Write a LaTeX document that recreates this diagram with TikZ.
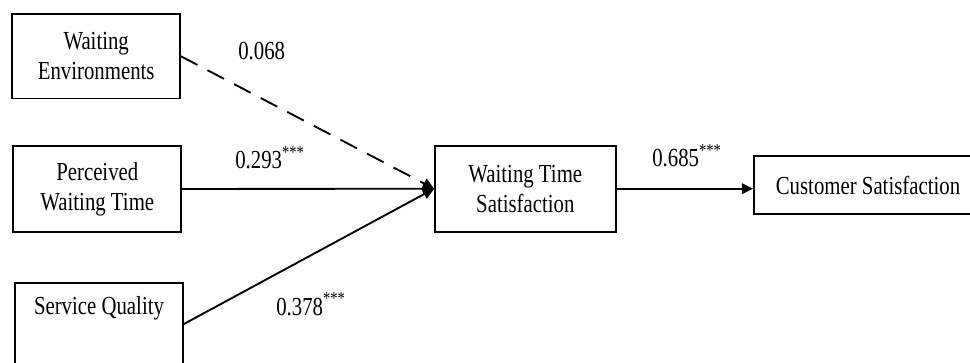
\documentclass[tikz,border=0pt]{standalone}
\usepackage{fontspec}
\setmainfont{Liberation Serif}[FakeStretch=0.8]
\usetikzlibrary{arrows.meta}
\begin{document}
\begin{tikzpicture}[x=0.75pt,y=-0.75pt,
  box/.style={draw,line width=1.3pt,inner sep=0pt,align=center,
    font=\fontsize{19.5}{22.5}\selectfont},
  lbl/.style={inner sep=0pt,anchor=base west,font=\fontsize{19.5}{22.5}\selectfont},
  txt/.style={inner sep=0pt,font=\fontsize{19.5}{22.5}\selectfont},
  conn/.style={line width=1.4pt,-{Triangle[length=8.5pt,width=8pt]}},
  dashconn/.style={conn,dash pattern=on 14pt off 8.5pt}]
\useasboundingbox (0,0) rectangle (970,363);
\clip (0,0) rectangle (970,363);
\node[box,minimum width=125.8pt,minimum height=63.5pt] (we) at (96.2,56.3) {Waiting\\Environments};
\node[box,minimum width=126pt,minimum height=65pt] (pwt) at (97.3,189) {Perceived\\Waiting Time};
\node[box,minimum width=125.8pt,minimum height=61.3pt] (sq) at (98.8,324.2) {};
\node[txt] (sqt) at (99,308) {Service Quality};
\node[box,minimum width=135.5pt,minimum height=64.5pt] (wts) at (525.3,188.7) {Waiting Time\\Satisfaction};
\node[box,minimum width=171pt,minimum height=43.5pt] (cs) at (868,185) {Customer Satisfaction};
\draw[dashconn] (we.east) -- (wts.west);
\draw[conn] (pwt.east) -- (wts.west);
\draw[conn] (sq.east) -- (wts.west);
\draw[conn] (wts.east) -- (wts.east -| cs.west);
\node[lbl] (l1) at (238,59.3) {0.068};
\node[lbl] (l2) at (235,168.3) {0.293\textsuperscript{***}};
\node[lbl] (l3) at (276,315) {0.378\textsuperscript{***}};
\node[lbl] (l4) at (652,166.7) {0.685\textsuperscript{***}};
\end{tikzpicture}
\end{document}
